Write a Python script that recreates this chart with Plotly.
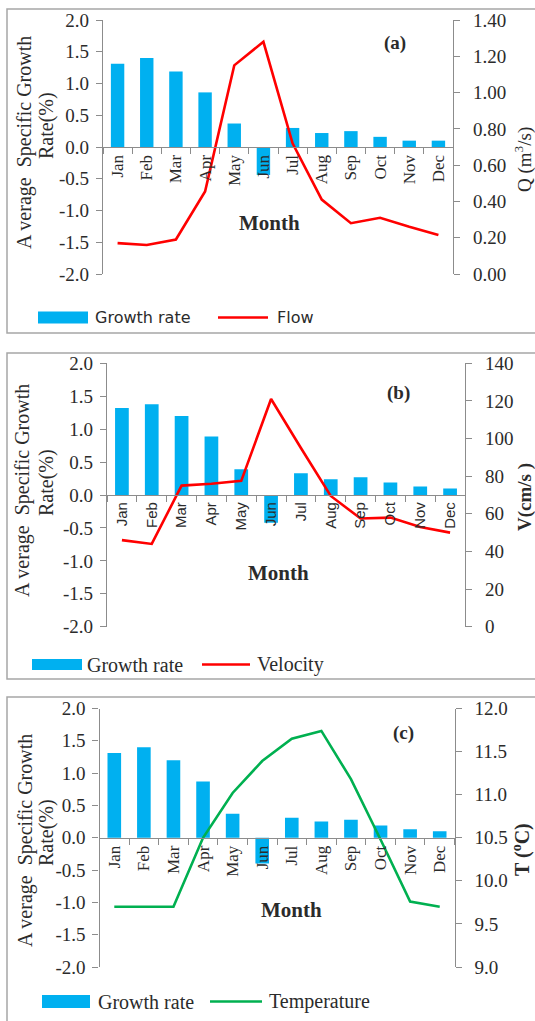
import plotly.graph_objects as go

# ---- data -------------------------------------------------------------
months = ["Jan", "Feb", "Mar", "Apr", "May", "Jun",
          "Jul", "Aug", "Sep", "Oct", "Nov", "Dec"]

growth_a = [1.31, 1.40, 1.19, 0.86, 0.37, -0.44, 0.30, 0.22, 0.25, 0.16, 0.10, 0.10]
flow = [0.17, 0.16, 0.19, 0.455, 1.15, 1.28, 0.72, 0.41, 0.28, 0.31, 0.26, 0.215]

growth_b = [1.32, 1.38, 1.20, 0.89, 0.39, -0.42, 0.33, 0.24, 0.27, 0.19, 0.13, 0.10]
velocity = [46, 44, 75, 76, 77.5, 121, 95, 69.5, 57.5, 58, 53, 50]

growth_c = [1.31, 1.40, 1.20, 0.87, 0.37, -0.40, 0.31, 0.25, 0.28, 0.19, 0.13, 0.10]
temperature = [9.7, 9.7, 9.7, 10.5, 11.02, 11.39, 11.65, 11.74, 11.18, 10.48, 9.76, 9.7]

growth_ticks = [2.0, 1.5, 1.0, 0.5, 0.0, -0.5, -1.0, -1.5, -2.0]
growth_tick_text = ["2.0", "1.5", "1.0", "0.5", "0.0", "-0.5", "-1.0", "-1.5", "-2.0"]
flow_ticks = [0.0, 0.2, 0.4, 0.6, 0.8, 1.0, 1.2, 1.4]
flow_tick_text = ["0.00", "0.20", "0.40", "0.60", "0.80", "1.00", "1.20", "1.40"]
velocity_ticks = [0, 20, 40, 60, 80, 100, 120, 140]
velocity_tick_text = ["0", "20", "40", "60", "80", "100", "120", "140"]
temp_ticks = [9.0, 9.5, 10.0, 10.5, 11.0, 11.5, 12.0]
temp_tick_text = ["9.0", "9.5", "10.0", "10.5", "11.0", "11.5", "12.0"]

# ---- page geometry (pixels -> paper fractions) -------------------------
W, H = 535, 1021


def fx(px):
    return px / W


def fy(py):
    return 1 - py / H


SERIF = "Liberation Serif, Times New Roman, serif"
SANS = "DejaVu Sans, Verdana, sans-serif"
ARIAL = "Liberation Sans, Arial, sans-serif"
TXT = "#2b2b2b"
AXC = "#8c8c8c"
BLUE = "#00B0F0"
RED = "#FF0000"
GREEN = "#00B050"

panels = [
    dict(x=(103, 453), y=(20, 274), growth=growth_a, line=flow, line_name="Flow",
         color=RED, rrange=[0, 1.4], rticks=flow_ticks, rtext=flow_tick_text,
         month_font=SERIF, month_size=17,
         rtitle="Q (m<sup>3</sup>/s)", rtitle_pos=(523, 160), rtitle_size=19,
         ltitle_pos=((25, 143), (46, 126)), month_pos=(270, 223),
         tag="<b>(a)</b>", tag_pos=(395, 43),
         box=(7, 9, 536, 333),
         legend=dict(rect=(38, 311.5, 88, 323.5), text_x=93, line=(218, 268),
                     lx=275, ly=317.5, font=SANS, size=16)),
    dict(x=(107, 465), y=(363.3, 626.7), growth=growth_b, line=velocity,
         line_name="Velocity", color=RED, rrange=[0, 140], rticks=velocity_ticks,
         rtext=velocity_tick_text, month_font=ARIAL, month_size=15,
         rtitle="<b>V(cm/s )</b>", rtitle_pos=(525, 497), rtitle_size=19,
         ltitle_pos=((22, 491), (46, 483)), month_pos=(278, 573),
         tag="<b>(b)</b>", tag_pos=(398, 393),
         box=(7, 353, 536, 679),
         legend=dict(rect=(32, 659, 82, 670), text_x=85, line=(202, 250),
                     lx=255, ly=664.5, font=SERIF, size=20)),
    dict(x=(99.5, 454.5), y=(708.5, 967), growth=growth_c, line=temperature,
         line_name="Temperature", color=GREEN, rrange=[9.0, 12.0], rticks=temp_ticks,
         rtext=temp_tick_text, month_font=SERIF, month_size=17,
         rtitle="<b>T (<sup>o</sup>C)</b>", rtitle_pos=(521, 850), rtitle_size=20,
         ltitle_pos=((25, 841), (46, 833)), month_pos=(291, 910),
         tag="<b>(c)</b>", tag_pos=(403, 733),
         box=(7, 697, 536, 1023),
         legend=dict(rect=(42, 995, 90, 1008), text_x=96, line=(210, 262),
                     lx=267, ly=1001.5, font=SERIF, size=20)),
]

fig = go.Figure()
layout = dict(width=W, height=H, margin=dict(l=0, r=0, t=0, b=0, pad=0),
              autosize=False, paper_bgcolor="white", plot_bgcolor="rgba(0,0,0,0)",
              showlegend=False, bargap=0.54)
shapes = []
annotations = []


def note(text, x, y, size, family=SERIF, angle=0, xanchor="center"):
    annotations.append(dict(text=text, x=fx(x), y=fy(y), xref="paper", yref="paper",
                            showarrow=False, textangle=angle, xanchor=xanchor,
                            yanchor="middle",
                            font=dict(family=family, size=size, color=TXT)))


for i, p in enumerate(panels):
    n = i + 1
    xa = "x" if n == 1 else f"x{n}"
    yl = "y" if n == 1 else f"y{2 * n - 1}"
    yr = f"y{2 * n}"

    fig.add_trace(go.Bar(x=months, y=p["growth"], marker_color=BLUE,
                         marker_line_width=0, xaxis=xa, yaxis=yl,
                         name="Growth rate"))
    fig.add_trace(go.Scatter(x=months, y=p["line"], mode="lines",
                             line=dict(color=p["color"], width=2.6),
                             xaxis=xa, yaxis=yr, name=p["line_name"]))

    x0, x1 = p["x"]
    ytop, ybot = p["y"]
    ymid = (ytop + ybot) / 2

    layout["xaxis" if n == 1 else f"xaxis{n}"] = dict(
        domain=[fx(x0), fx(x1)], anchor="free", position=fy(ymid),
        type="category", range=[-0.5, 11.5], showline=True, linecolor=AXC,
        linewidth=1.3, ticks="outside", tickson="boundaries", ticklen=6,
        tickcolor=AXC, tickangle=-90, showgrid=False, zeroline=False,
        automargin=False,
        tickfont=dict(family=p["month_font"], size=p["month_size"], color=TXT),
    )
    layout["yaxis" if n == 1 else f"yaxis{2 * n - 1}"] = dict(
        domain=[fy(ybot), fy(ytop)], anchor=xa, range=[-2, 2],
        tickvals=growth_ticks, ticktext=growth_tick_text, ticks="outside",
        ticklen=6, tickcolor=AXC, showline=True, linecolor=AXC, linewidth=1.3,
        showgrid=False, zeroline=False, ticklabelstandoff=3, automargin=False,
        tickfont=dict(family=SERIF, size=19, color=TXT),
    )
    layout[f"yaxis{2 * n}"] = dict(
        overlaying=yl, side="right", anchor=xa, range=p["rrange"],
        tickvals=p["rticks"], ticktext=p["rtext"], ticks="outside", ticklen=6,
        tickcolor=AXC, showline=True, linecolor=AXC, linewidth=1.3,
        showgrid=False, zeroline=False, ticklabelstandoff=9, automargin=False,
        tickfont=dict(family=SERIF, size=19, color=TXT),
    )

    # panel frame
    bx0, by0, bx1, by1 = p["box"]
    shapes.append(dict(type="rect", xref="paper", yref="paper",
                       x0=fx(bx0), x1=fx(bx1), y0=fy(by1), y1=fy(by0),
                       line=dict(color="#a6a6a6", width=1.5), layer="below"))

    # axis titles and panel tag
    (t1x, t1y), (t2x, t2y) = p["ltitle_pos"]
    note("A verage  Specific Growth", t1x, t1y, 20, angle=-90)
    note("Rate(%)", t2x, t2y, 20, angle=-90)
    rx, ry = p["rtitle_pos"]
    note(p["rtitle"], rx, ry, p["rtitle_size"], angle=-90)
    mx, my = p["month_pos"]
    note("<b>Month</b>", mx, my, 21)
    tx, ty = p["tag_pos"]
    note(p["tag"], tx, ty, 19)

    # legend row
    lg = p["legend"]
    rx0, ry0, rx1, ry1 = lg["rect"]
    shapes.append(dict(type="rect", xref="paper", yref="paper",
                       x0=fx(rx0), x1=fx(rx1), y0=fy(ry1), y1=fy(ry0),
                       fillcolor=BLUE, line=dict(width=0)))
    note("Growth rate", lg["text_x"], lg["ly"], lg["size"], family=lg["font"],
         xanchor="left")
    lx0, lx1 = lg["line"]
    shapes.append(dict(type="line", xref="paper", yref="paper",
                       x0=fx(lx0), x1=fx(lx1), y0=fy(lg["ly"]), y1=fy(lg["ly"]),
                       line=dict(color=p["color"], width=2.6)))
    note(p["line_name"], lg["lx"], lg["ly"], lg["size"], family=lg["font"],
         xanchor="left")

layout["shapes"] = shapes
layout["annotations"] = annotations
fig.update_layout(**layout)
fig.write_html("out.html")
